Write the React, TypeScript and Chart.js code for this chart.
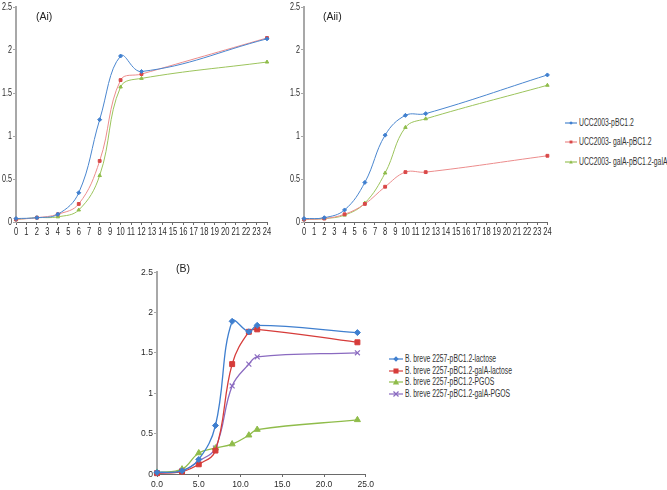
import React, { useEffect, useRef } from "react";
import { Chart, registerables } from "chart.js";
Chart.register(...registerables);

const FONT = '"Liberation Sans", Arial, sans-serif';

// Panel A time points (h)
const timesA = [0, 2, 4, 6, 8, 10, 12, 24];
const ai_pBC = [0.04, 0.05, 0.09, 0.34, 1.19, 1.93, 1.75, 2.13];
const ai_galA = [0.03, 0.05, 0.09, 0.21, 0.71, 1.65, 1.72, 2.14];
const ai_galA_galA = [0.03, 0.05, 0.06, 0.14, 0.54, 1.57, 1.67, 1.86];

const aii_pBC = [0.04, 0.05, 0.14, 0.46, 1.01, 1.24, 1.26, 1.71];
const aii_galA = [0.03, 0.04, 0.09, 0.21, 0.41, 0.58, 0.58, 0.77];
const aii_galA_galA = [0.03, 0.04, 0.08, 0.22, 0.57, 1.1, 1.2, 1.59];

const legendA = ["UCC2003-pBC1.2", "UCC2003- galA-pBC1.2", "UCC2003- galA-pBC1.2-galA"];

// Panel B
const timesB = [0, 3, 5, 7, 9, 11, 12, 24];
const b_lactose = [0.02, 0.04, 0.18, 0.6, 1.89, 1.76, 1.84, 1.75];
const b_galA_lactose = [0.01, 0.03, 0.12, 0.29, 1.36, 1.76, 1.79, 1.63];
const b_PGOS = [0.02, 0.06, 0.26, 0.32, 0.37, 0.48, 0.55, 0.67];
const b_galA_PGOS = [0.01, 0.04, 0.16, 0.32, 1.09, 1.36, 1.45, 1.5];
const legendB = [
  "B. breve 2257-pBC1.2-lactose",
  "B. breve 2257-pBC1.2-galA-lactose",
  "B. breve 2257-pBC1.2-PGOS",
  "B. breve 2257-pBC1.2-galA-PGOS",
];

const colA = ["#3f7fcf", "#d94848", "#8fbc4a"];
const lineA = ["#4a86cf", "#ec8c8c", "#9cc45c"];
const styleA = ["rectRot", "rect", "triangle"];

const colB = ["#3f7fcf", "#d63c3a", "#8fbc4a", "#8a6ac0"];
const styleB = ["rectRot", "rect", "triangle", "crossRot"];
const radB = [3, 3.5, 3.5, 3.5];

const pts = (xs: number[], ys: number[]) => xs.map((x, i) => ({ x, y: ys[i] }));

function makeOptions(p: {
  yW: number; xH: number; top: number; right: number; xMax: number; xStep: number;
  xFmt: (v: number) => string; xFont: number; yFont: number; xPad: number;
}) {
  return {
    animation: false,
    responsive: false,
    maintainAspectRatio: false,
    layout: { padding: { top: p.top, right: p.right, left: 0, bottom: 0 } },
    plugins: { legend: { display: false }, tooltip: { enabled: false } },
    scales: {
      x: {
        type: "linear",
        min: 0,
        max: p.xMax,
        afterFit: (s: any) => { s.height = p.xH; },
        border: { color: "#6a6a6a", width: 1 },
        grid: { drawOnChartArea: false, drawTicks: true, tickLength: 3, color: "#6a6a6a" },
        ticks: {
          stepSize: p.xStep,
          autoSkip: false,
          maxRotation: 0,
          padding: p.xPad,
          color: "#2a2a2a",
          font: { family: FONT, size: p.xFont },
          callback: (v: any) => p.xFmt(Number(v)),
        },
      },
      y: {
        min: 0,
        max: 2.5,
        afterFit: (s: any) => { s.width = p.yW; },
        border: { color: "#a8a8a8", width: 2 },
        grid: { drawOnChartArea: false, drawTicks: true, tickLength: 3, color: "#a8a8a8" },
        ticks: {
          stepSize: 0.5,
          padding: 1,
          color: "#2a2a2a",
          font: { family: FONT, size: p.yFont },
          callback: (v: any) => String(Number(v)),
        },
      },
    },
  } as any;
}

function ChartBox(props: { left: number; top: number; width: number; height: number; config: any; squeeze: number }) {
  const ref = useRef<HTMLCanvasElement>(null);
  useEffect(() => {
    const canvas = ref.current as HTMLCanvasElement;
    const ctx = canvas.getContext("2d") as any;
    const sq = props.squeeze;
    if (!ctx.__squeezed) {
      // the original uses a condensed typeface: draw the tick text narrower
      const orig = ctx.fillText.bind(ctx);
      ctx.fillText = (t: string, x: number, y: number, mw?: number) => {
        ctx.save();
        ctx.translate(x, y);
        ctx.scale(sq, 1);
        if (mw === undefined) orig(t, 0, 0);
        else orig(t, 0, 0, mw / sq);
        ctx.restore();
      };
      ctx.__squeezed = true;
    }
    const c = new Chart(canvas, props.config);
    return () => c.destroy();
  }, []);
  return (
    <canvas
      ref={ref}
      width={props.width}
      height={props.height}
      style={{ position: "absolute", left: props.left, top: props.top, width: props.width, height: props.height }}
    />
  );
}

function dsA(series: number[][]) {
  return series.map((s, i) => ({
    data: pts(timesA, s),
    borderColor: lineA[i],
    backgroundColor: colA[i],
    pointBackgroundColor: colA[i],
    pointBorderColor: colA[i],
    pointStyle: styleA[i],
    pointRadius: 2,
    borderWidth: 1,
    tension: 0.4,
    clip: false,
  }));
}

function dsB() {
  return [b_lactose, b_galA_lactose, b_PGOS, b_galA_PGOS].map((s, i) => ({
    data: pts(timesB, s),
    borderColor: colB[i],
    backgroundColor: colB[i],
    pointBackgroundColor: colB[i],
    pointBorderColor: colB[i],
    pointStyle: styleB[i],
    pointRadius: radB[i],
    pointBorderWidth: styleB[i] === "crossRot" ? 1.2 : 1,
    borderWidth: 1.3,
    tension: 0.4,
    clip: false,
  }));
}

function Marker(props: { color: string; line: string; style: string; size: number; w: number }) {
  const { color, line, style, size, w } = props;
  const cx = w / 2, cy = 5;
  let m: any = null;
  if (style === "rectRot") m = <polygon points={`${cx},${cy - size} ${cx + size},${cy} ${cx},${cy + size} ${cx - size},${cy}`} fill={color} />;
  else if (style === "rect") m = <rect x={cx - size * 0.8} y={cy - size * 0.8} width={size * 1.6} height={size * 1.6} fill={color} />;
  else if (style === "triangle") m = <polygon points={`${cx},${cy - size} ${cx + size},${cy + size * 0.8} ${cx - size},${cy + size * 0.8}`} fill={color} />;
  else m = (
    <g stroke={color} strokeWidth={1.2}>
      <line x1={cx - size * 0.8} y1={cy - size * 0.8} x2={cx + size * 0.8} y2={cy + size * 0.8} />
      <line x1={cx - size * 0.8} y1={cy + size * 0.8} x2={cx + size * 0.8} y2={cy - size * 0.8} />
    </g>
  );
  return (
    <svg width={w} height={10} style={{ display: "block" }}>
      <line x1={0} y1={cy} x2={w} y2={cy} stroke={line} strokeWidth={1.2} />
      {m}
    </svg>
  );
}

function LegendRow(props: { left: number; top: number; label: string; color: string; line: string; style: string; size: number; w: number; fs: number; sq: number }) {
  return (
    <div style={{ position: "absolute", left: props.left, top: props.top - 5, height: 10, display: "flex", alignItems: "center", whiteSpace: "nowrap" }}>
      <Marker color={props.color} line={props.line} style={props.style} size={props.size} w={props.w} />
      <span
        style={{
          display: "inline-block",
          fontFamily: FONT,
          fontSize: props.fs,
          color: "#333",
          marginLeft: 2,
          lineHeight: "10px",
          transform: `scaleX(${props.sq})`,
          transformOrigin: "left center",
        }}
      >
        {props.label}
      </span>
    </div>
  );
}

export default function App() {
  const optAi = makeOptions({ yW: 16, xH: 18, top: 6, right: 13, xMax: 24, xStep: 1, xFmt: (v) => String(v), xFont: 10.5, yFont: 10, xPad: 1 });
  const optAii = makeOptions({ yW: 20, xH: 18, top: 6, right: 16.6, xMax: 24, xStep: 1, xFmt: (v) => String(v), xFont: 10.5, yFont: 10, xPad: 1 });
  const optB = makeOptions({ yW: 22, xH: 16, top: 10, right: 10, xMax: 25, xStep: 5, xFmt: (v) => v.toFixed(1), xFont: 9.5, yFont: 9.5, xPad: 2 });

  const cfgAi = { type: "line", data: { datasets: dsA([ai_pBC, ai_galA, ai_galA_galA]) }, options: optAi };
  const cfgAii = { type: "line", data: { datasets: dsA([aii_pBC, aii_galA, aii_galA_galA]) }, options: optAii };
  const cfgB = { type: "line", data: { datasets: dsB() }, options: optB };

  const lbl = (text: string, left: number, top: number) => (
    <div style={{ position: "absolute", left, top, fontFamily: FONT, fontSize: 10.5, color: "#222", lineHeight: "12px" }}>{text}</div>
  );

  return (
    <div style={{ position: "absolute", left: 0, top: 0, width: 667, height: 490, background: "#fff", overflow: "hidden" }}>
      <ChartBox left={0} top={0} width={280} height={240} config={cfgAi} squeeze={0.72} />
      <ChartBox left={284} top={0} width={280} height={240} config={cfgAii} squeeze={0.72} />
      <ChartBox left={135} top={262} width={242} height={228} config={cfgB} squeeze={0.9} />
      {lbl("(Ai)", 36, 10)}
      {lbl("(Aii)", 323, 10)}
      {lbl("(B)", 176, 262)}
      {legendA.map((t, i) => (
        <LegendRow key={t} left={565} top={122.5 + i * 19.5} label={t} color={colA[i]} line={lineA[i]} style={styleA[i]} size={1.8} w={12} fs={10} sq={0.68} />
      ))}
      {legendB.map((t, i) => (
        <LegendRow key={t} left={389} top={359 + i * 11.5} label={t} color={colB[i]} line={colB[i]} style={styleB[i]} size={radB[i] * 0.9} w={14} fs={10} sq={0.68} />
      ))}
    </div>
  );
}
